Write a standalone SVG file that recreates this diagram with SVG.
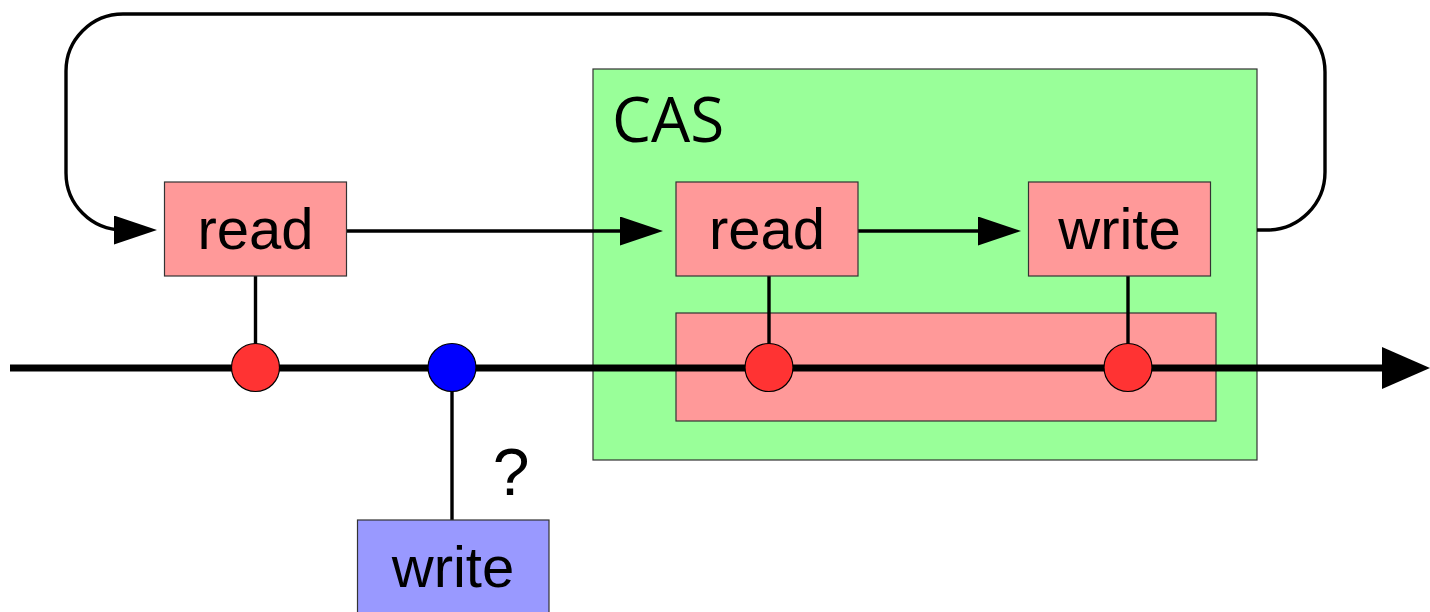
<svg xmlns="http://www.w3.org/2000/svg" width="1430" height="612" viewBox="0 0 1430 612">
  <style>
    .op { fill: #ff9999; stroke: #333333; stroke-width: 1.2; }
    .lbl { font-family: "Liberation Sans", Arial, sans-serif; font-size: 58px; fill: #000; text-anchor: middle; }
    .wire { fill: none; stroke: #000; stroke-width: 3.4; }
    .dot { stroke: #000; stroke-width: 1.2; }
  </style>
  <defs>
    <marker id="arrow" markerUnits="userSpaceOnUse" markerWidth="44" markerHeight="30" refX="33" refY="14.5" orient="auto">
      <path d="M0,0 L43,14.5 L0,29 Z" fill="#000"/>
    </marker>
    <marker id="bigArrow" markerUnits="userSpaceOnUse" markerWidth="50" markerHeight="44" refX="38" refY="21" orient="auto">
      <path d="M0,0 L48,21 L0,42 Z" fill="#000"/>
    </marker>
  </defs>

  <!-- CAS region -->
  <g id="cas">
    <rect x="593" y="69" width="664" height="391" fill="#99ff99" stroke="#333333" stroke-width="1.2"/>
    <text x="612" y="142" font-family="'Open Sans', 'Noto Sans', sans-serif" font-size="62" fill="#000">CAS</text>
    <rect id="atomic" x="676" y="313" width="540" height="108" class="op"/>
  </g>

  <!-- connectors -->
  <g id="connectors">
    <path class="wire" d="M1257,230 H1267 A58,58 0 0 0 1325,172 V72 A58,58 0 0 0 1267,14 H123 A57,57 0 0 0 66,71 V173 A57,57 0 0 0 123,230 H147" marker-end="url(#arrow)"/>
    <path class="wire" d="M347,231 H653" marker-end="url(#arrow)"/>
    <path class="wire" d="M858,231 H1011" marker-end="url(#arrow)"/>
    <line x1="10" y1="368" x2="1420" y2="368" stroke="#000" stroke-width="7" marker-end="url(#bigArrow)"/>
    <line class="wire" x1="255.5" y1="276" x2="255.5" y2="344"/>
    <line class="wire" x1="452" y1="391" x2="452" y2="520"/>
    <line class="wire" x1="769" y1="276" x2="769" y2="344"/>
    <line class="wire" x1="1128" y1="276" x2="1128" y2="344"/>
  </g>

  <!-- events on the timeline -->
  <g id="events">
    <circle class="dot" cx="255.5" cy="367.5" r="24" fill="#ff3333"/>
    <circle class="dot" cx="452" cy="367.5" r="24" fill="#0000ff"/>
    <circle class="dot" cx="769" cy="367.5" r="24" fill="#ff3333"/>
    <circle class="dot" cx="1128" cy="367.5" r="24" fill="#ff3333"/>
  </g>

  <g id="read-outer">
    <rect x="164.5" y="182" width="182" height="94" class="op"/>
    <text x="255.5" y="249" class="lbl">read</text>
  </g>
  <g id="read-cas">
    <rect x="676" y="182" width="182" height="94" class="op"/>
    <text x="767" y="249" class="lbl">read</text>
  </g>
  <g id="write-cas">
    <rect x="1028.5" y="182" width="182" height="94" class="op"/>
    <text x="1119.5" y="249" class="lbl">write</text>
  </g>
  <g id="write-other">
    <rect x="357.5" y="520" width="191.5" height="100" fill="#9999ff" stroke="#333333" stroke-width="1.2"/>
    <text x="453" y="587" class="lbl">write</text>
  </g>
  <text x="511" y="495" class="lbl" style="font-size:66px">?</text>
</svg>
